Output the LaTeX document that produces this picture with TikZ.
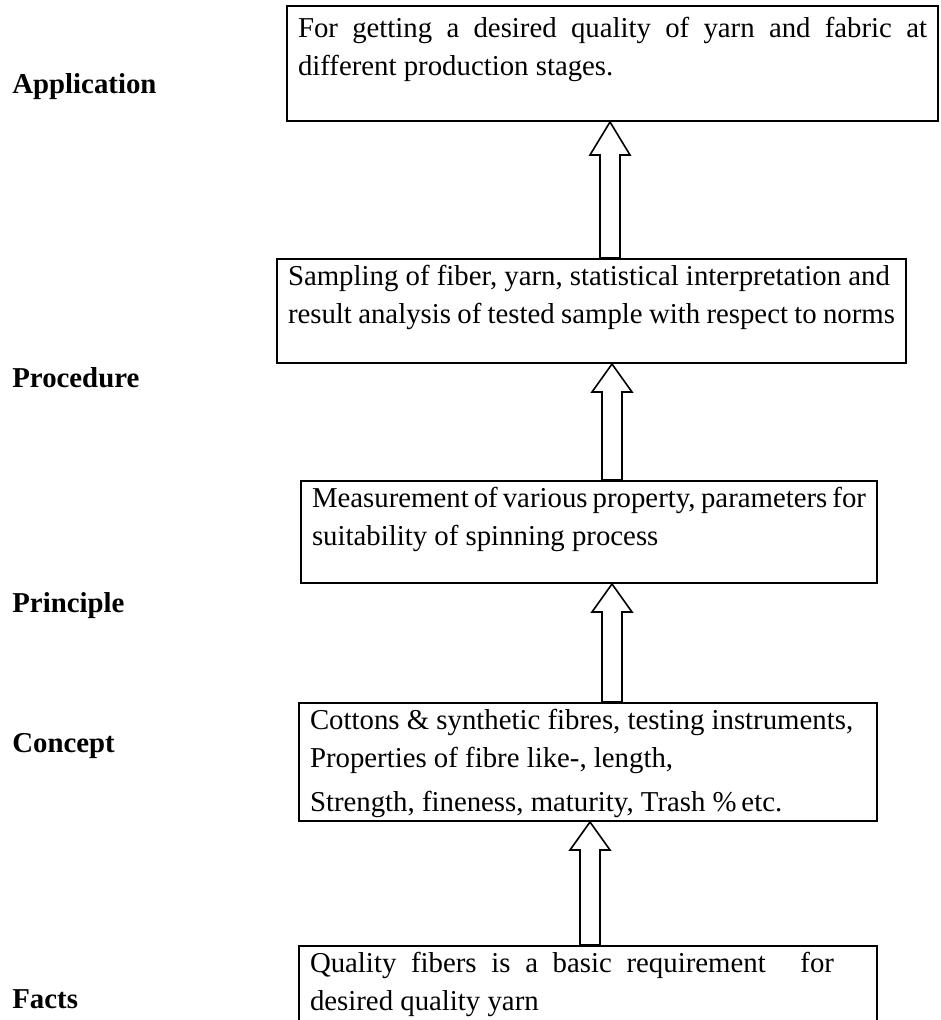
\documentclass[tikz,border=0pt]{standalone}
\usepackage{fontspec}
\setmainfont{Liberation Serif}
\usetikzlibrary{positioning,calc}
\hfuzz=30pt
\hbadness=10000

% text of a stage box: width, height, lines
\newcommand{\stagetext}[3]{\parbox[t][#2][t]{#1}{\strut #3}}
% hollow arrow from the lower box up to the upper box: lower, upper, axis x, head length
\newcommand{\blockup}[4]{%
  \draw[hollow] (#3-10,0 |- #1.north) -- ($(#3-10,0 |- #2.south)+(0,#4)$)
    -- ($(#3-20,0 |- #2.south)+(0,#4)$) -- (#3,0 |- #2.south)
    -- ($(#3+20,0 |- #2.south)+(0,#4)$) -- ($(#3+10,0 |- #2.south)+(0,#4)$)
    -- (#3+10,0 |- #1.north) -- cycle;}

\begin{document}
\begin{tikzpicture}[
  x=0.5pt, y=-0.5pt,
  stage/.style={draw, line width=1pt, inner xsep=5.5pt, inner ysep=0pt, anchor=north west,
    font=\fontsize{14.4}{19}\selectfont},
  side/.style={anchor=base west, inner sep=0pt, font=\fontsize{14.4}{19}\selectfont\bfseries},
  hollow/.style={draw, line width=0.8pt, line join=miter}
]
  \path[use as bounding box, fill=white] (0,0) rectangle (940,1020);

  % Stages
  \node[stage] (b1) at (286,5) {\stagetext{314.5pt}{57.5pt}{%
    \rule{0pt}{15.8pt}\makebox[\linewidth][s]{For getting a desired quality of yarn and fabric at}\\
    different production stages.}};
  \node[stage] (b2) at (276,258) {\stagetext{303.5pt}{52pt}{%
    Sampling of fiber, yarn, statistical interpretation and\\
    result analysis of tested sample with respect to norms}};
  \node[stage] (b3) at (300,480) {\stagetext{277pt}{51pt}{%
    Measurement of various property, parameters for\\
    suitability of spinning process}};
  \node[stage] (b4) at (298,702) {\stagetext{278pt}{59pt}{%
    Cottons \& synthetic fibres, testing instruments,\\
    Properties of fibre like-, length,\\[3pt]
    Strength, fineness, maturity, Trash \%\,etc.}};
  \node[stage] (b5) at (298,945) {\stagetext{278pt}{60pt}{%
    \makebox[262pt][s]{Quality fibers is a basic requirement\hspace{10pt} for}\\
    desired quality yarn}};

  % Levels
  \node[side] (lapp)  at (12,94)   {Application};
  \node[side] (lproc) at (12,388)  {Procedure};
  \node[side] (lprin) at (12,612)  {Principle};
  \node[side] (lcon)  at (12,752)  {Concept};
  \node[side] (lfact) at (12,1008) {Facts};

  % Arrows
  \blockup{b2}{b1}{610}{33}
  \blockup{b3}{b2}{612}{28}
  \blockup{b4}{b3}{612}{28}
  \blockup{b5}{b4}{590}{28}
\end{tikzpicture}
\end{document}
